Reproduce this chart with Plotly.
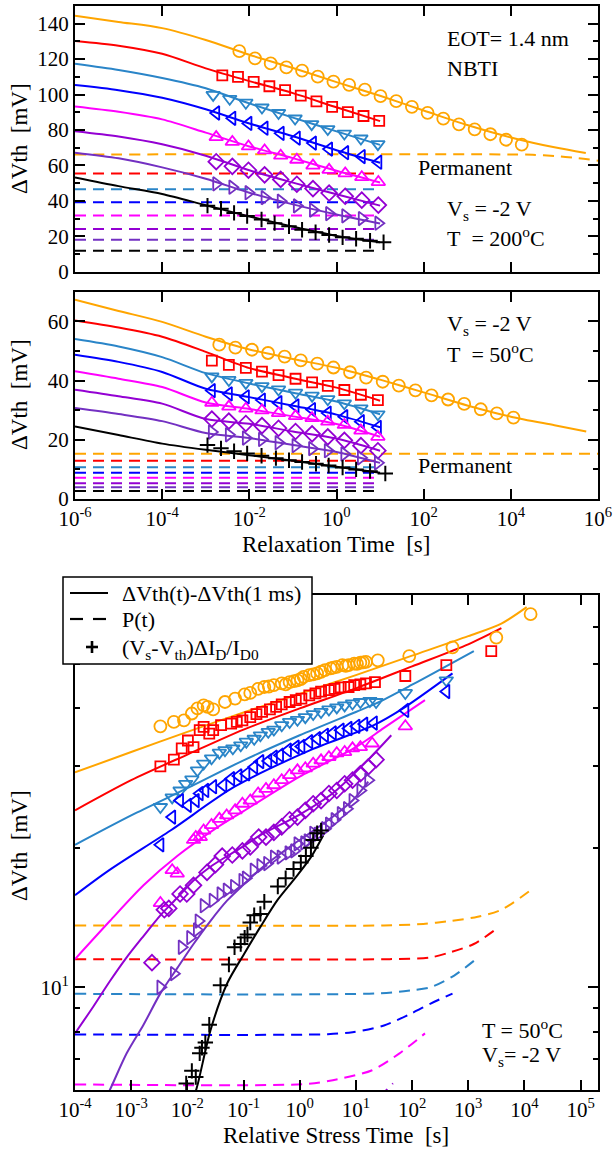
import numpy as np
import plotly.graph_objects as go

# ---------------- colours ----------------
ORANGE = "#FFA500"
RED = "#FF0000"
STEEL = "#2A85C8"
BLUE = "#0000FF"
MAGENTA = "#FF00FF"
PURPLE = "#9400D3"
VIOLET = "#7330C2"
BLACK = "#000000"

# ================= TOP PANEL (T = 200 C), log10(relaxation time [s]) / mV =================
top_line_logt = [-6, -5, -4, -3, -2, -1, 0, 1]
top_orange_line_logt = [-6, -5, -4, -3, -2, -1, 0, 1, 2, 3, 4, 5, 5.72]
top_orange_line = [144.5, 141.0, 137.5, 130.8, 122.5, 115.0, 107.0, 99.3, 91.0, 82.8, 75.8, 70.2, 67.0]
top_red_line = [130.3, 127.6, 123.0, 114.8, 107.6, 100.8, 92.8, 85.0]
top_steel_line = [117.4, 113.9, 109.4, 103.6, 95.0, 87.0, 79.2, 71.6]
top_blue_line = [105.4, 102.5, 98.2, 91.7, 83.7, 76.5, 68.6, 61.5]
top_magenta_line = [93.3, 90.3, 86.0, 78.5, 70.7, 64.1, 57.0, 50.4]
top_purple_line = [79.3, 76.3, 71.9, 65.5, 57.3, 50.3, 43.7, 37.3]
top_violet_line = [67.2, 64.0, 58.9, 52.5, 44.6, 38.0, 32.3, 27.2]
top_black_line = [53.2, 48.3, 43.9, 37.5, 31.2, 25.4, 20.2, 16.6]

top_orange_pts_logt = [-2.23, -1.87, -1.51, -1.15, -0.79, -0.43, -0.07, 0.29, 0.65, 1.01,
                       1.37, 1.73, 2.09, 2.45, 2.81, 3.17, 3.53, 3.89, 4.25]
top_orange_pts = [124.5, 120.4, 117.6, 115.3, 113.5, 110.1, 107.3, 105.5, 102.8, 99.1,
                  96.3, 93.1, 89.7, 86.4, 83.2, 80.4, 77.6, 74.5, 71.7]
top_red_pts_logt = [-2.62, -2.26, -1.90, -1.54, -1.18, -0.82, -0.46, -0.10, 0.26, 0.62, 0.98]
top_red_pts = [110.8, 110.0, 107.2, 104.7, 102.5, 99.4, 96.2, 93.1, 90.1, 87.9, 85.1]
top_steel_pts_logt = [-2.83, -2.45, -2.08, -1.71, -1.33, -0.95, -0.57, -0.20, 0.18, 0.56, 0.95]
top_steel_pts = [99.8, 97.6, 95.4, 92.7, 89.6, 86.5, 83.3, 80.5, 78.0, 75.2, 72.0]
top_pts_logt = [-2.76, -2.39, -2.02, -1.65, -1.28, -0.91, -0.54, -0.17, 0.20, 0.58, 0.96]
top_blue_pts = [89.6, 86.6, 83.7, 81.0, 78.1, 75.4, 72.6, 69.2, 67.2, 65.0, 61.8]
top_magenta_pts = [76.0, 73.3, 70.7, 68.5, 65.5, 63.2, 59.9, 57.5, 55.5, 53.4, 50.6]
top_purple_pts = [62.1, 59.5, 57.3, 54.7, 52.1, 49.4, 46.9, 44.4, 42.6, 40.4, 37.6]
top_violet_pts = [49.6, 47.7, 44.6, 41.8, 39.8, 37.2, 34.8, 32.8, 31.5, 30.0, 27.4]
top_black_pts_logt = [-2.96, -2.65, -2.35, -2.05, -1.72, -1.42, -1.09, -0.79, -0.48, -0.17,
                      0.14, 0.45, 0.77, 1.08]
top_black_pts = [37.3, 35.6, 33.2, 31.4, 29.5, 27.4, 25.6, 23.7, 22.3, 20.7, 19.4, 18.6, 17.5, 16.6]

top_dash_logt = [-6, 0.98]
top_orange_dash_logt = [-6, 4.0, 4.5, 5.0, 5.5, 6.0]
top_orange_dash = [66.2, 66.2, 66.0, 65.3, 64.2, 62.7]
top_perm_levels = {"red": 55.5, "steel": 46.5, "blue": 39.2, "magenta": 31.7,
                   "purple": 24.1, "violet": 18.1, "black": 11.8}

# ================= MIDDLE PANEL (T = 50 C) =================
mid_line_logt = [-6, -5, -4, -3, -2, -1, 0, 1]
mid_orange_line_logt = [-6, -5, -4, -3, -2, -1, 0, 1, 2, 3, 4, 5, 5.73]
mid_orange_line = [67.3, 63.5, 59.8, 54.8, 50.5, 47.3, 44.3, 40.3, 36.0, 31.6, 27.8, 24.9, 22.8]
mid_red_line = [60.3, 57.9, 54.8, 49.7, 44.2, 40.8, 37.6, 33.2]
mid_steel_line = [54.0, 51.5, 47.9, 42.5, 39.0, 35.9, 32.9, 28.6]
mid_blue_line = [48.7, 46.3, 42.9, 37.2, 34.4, 31.5, 28.5, 24.2]
mid_magenta_line = [43.1, 40.6, 37.8, 32.6, 30.4, 27.9, 25.3, 21.0]
mid_purple_line = [36.9, 34.7, 32.2, 27.0, 25.4, 22.8, 20.4, 16.3]
mid_violet_line = [30.7, 28.7, 26.3, 22.3, 20.6, 18.2, 15.9, 12.2]
mid_black_line = [24.5, 21.6, 18.7, 16.6, 14.8, 12.9, 10.9, 8.9]

mid_orange_pts_logt = [-2.69, -2.32, -1.94, -1.57, -1.19, -0.82, -0.44, -0.07, 0.31, 0.68,
                       1.06, 1.43, 1.81, 2.18, 2.56, 2.93, 3.31, 3.68, 4.06]
mid_orange_pts = [52.1, 51.1, 50.4, 49.3, 48.1, 46.8, 45.7, 44.4, 42.8, 41.0,
                  39.6, 38.3, 36.7, 35.0, 33.6, 32.1, 30.3, 28.9, 27.5]
mid_pts_logt = [-2.86, -2.47, -2.08, -1.71, -1.33, -0.94, -0.56, -0.20, 0.18, 0.56, 0.95]
mid_red_pts = [46.7, 45.3, 44.3, 43.0, 41.8, 40.6, 39.4, 38.2, 36.8, 35.2, 33.4]
mid_steel_pts = [41.4, 40.2, 39.2, 38.1, 37.0, 35.9, 34.9, 33.7, 32.3, 30.6, 28.6]
mid_blue_pts = [36.6, 35.5, 34.5, 33.4, 32.5, 31.4, 30.2, 29.0, 27.8, 26.1, 24.2]
mid_magenta_pts = [32.5, 31.2, 30.5, 29.9, 29.0, 28.0, 27.3, 26.1, 25.0, 23.1, 21.0]
mid_purple_pts = [27.0, 26.3, 25.5, 24.8, 23.9, 22.8, 22.0, 21.0, 19.8, 18.0, 16.3]
mid_violet_pts = [22.6, 21.7, 20.6, 20.1, 19.0, 18.0, 17.0, 16.3, 15.2, 13.9, 12.2]
mid_black_pts_logt = [-2.96, -2.65, -2.35, -2.05, -1.72, -1.39, -1.09, -0.79, -0.47, -0.18,
                      0.14, 0.45, 0.77, 1.12]
mid_black_pts = [18.2, 17.1, 16.1, 15.4, 14.6, 13.8, 13.1, 12.5, 11.9, 11.3, 10.6, 10.0, 9.4, 8.6]

mid_dash_logt = [-6, 0.97]
mid_orange_dash_logt = [-6, 6]
mid_orange_dash = [15.3, 15.3]
mid_perm_levels = {"red": 12.9, "steel": 10.7, "blue": 8.9, "magenta": 7.2,
                   "purple": 5.3, "violet": 4.0, "black": 2.7}

# ================= BOTTOM PANEL: log10(relative stress time [s]) / mV =================
bot_orange_line_logt = [-4, -3, -2, -1, 0, 1, 2, 3, 3.59, 4.04]
bot_orange_line = [29.1, 32.2, 35.6, 39.2, 43.0, 47.2, 52.0, 57.3, 61.0, 66.2]
bot_orange_pts_logt = [-2.48, -2.24, -2.06, -1.92, -1.82, -1.71, -1.64, -1.54, -1.33, -1.15,
                       -0.98, -0.88, -0.74, -0.63, -0.55, -0.46, -0.32, -0.25, -0.18, -0.10,
                       -0.04, 0.02, 0.07, 0.17, 0.24, 0.31, 0.38, 0.45, 0.55, 0.60, 0.66,
                       0.76, 0.82, 0.87, 0.97, 1.02, 1.08, 1.13, 1.18, 1.39, 1.95, 2.72,
                       3.50, 4.11]
bot_orange_pts = [36.6, 37.4, 37.7, 39.0, 40.0, 40.6, 40.3, 39.8, 41.3, 42.0,
                  42.9, 43.2, 44.1, 44.5, 44.6, 44.9, 45.3, 45.1, 45.6, 45.8,
                  46.0, 46.3, 46.8, 47.2, 47.4, 47.6, 48.0, 48.4, 48.8, 49.0, 49.2,
                  49.6, 49.4, 49.6, 50.0, 49.9, 50.2, 50.3, 50.4, 50.8, 51.9, 54.2,
                  56.9, 63.9]
bot_red_line_logt = [-4, -3, -2, -1, 0, 1, 2, 3, 3.59]
bot_red_line = [24.1, 28.0, 31.8, 36.0, 40.0, 44.2, 49.3, 55.0, 59.6]
bot_red_pts_logt = [-2.48, -2.24, -2.10, -1.99, -1.89, -1.78, -1.71, -1.61, -1.54, -1.40,
                    -1.22, -1.12, -1.02, -0.88, -0.77, -0.67, -0.53, -0.42, -0.32, -0.18,
                    -0.07, 0.03, 0.17, 0.28, 0.38, 0.52, 0.62, 0.73, 0.87, 0.97, 1.08,
                    1.18, 1.34, 1.88, 2.61, 3.41]
bot_red_pts = [30.0, 31.0, 32.8, 34.1, 33.0, 35.9, 36.5, 35.3, 35.9, 36.8,
               37.1, 37.4, 37.7, 38.3, 38.9, 39.3, 39.8, 40.3, 40.8, 41.3,
               41.7, 42.0, 42.7, 43.1, 43.5, 43.8, 44.1, 44.4, 44.5, 44.9, 45.1,
               45.3, 45.6, 47.0, 49.6, 53.2]
bot_steel_line_logt = [-4, -3, -2, -1, 0, 1, 1.36, 2, 3.10]
bot_steel_line = [20.3, 23.5, 26.9, 30.9, 35.0, 39.3, 41.0, 45.0, 53.2]
bot_steel_pts_logt = [-2.48, -2.27, -2.13, -2.03, -1.92, -1.82, -1.71, -1.57, -1.43, -1.33,
                      -1.19, -1.05, -0.95, -0.81, -0.70, -0.56, -0.46, -0.32, -0.18, -0.04,
                      0.10, 0.24, 0.38, 0.52, 0.66, 0.80, 0.94, 1.08, 1.25, 1.36, 1.88, 2.61]
bot_steel_pts = [24.5, 25.7, 26.6, 27.5, 28.1, 29.4, 30.4, 31.2, 32.1, 32.5,
                 32.8, 33.3, 33.9, 34.4, 35.0, 35.6, 36.0, 36.8, 37.4, 37.8,
                 38.3, 38.9, 39.3, 39.8, 40.2, 40.6, 41.0, 41.3, 41.5, 41.3, 43.2, 46.0]
bot_blue_line_logt = [-4, -3.39, -2.3, -1.16, 0.24, 1.32, 1.84, 2.72]
bot_blue_line = [15.8, 17.9, 21.8, 27.1, 32.7, 36.8, 40.0, 47.6]
bot_blue_pts_logt = [-2.48, -2.27, -2.13, -1.99, -1.85, -1.78, -1.68, -1.54, -1.36, -1.22,
                     -1.09, -0.95, -0.81, -0.70, -0.56, -0.46, -0.35, -0.21, -0.07, 0.03,
                     0.17, 0.31, 0.45, 0.59, 0.73, 0.87, 1.01, 1.15, 1.32, 1.88, 2.61]
bot_blue_pts = [20.3, 23.3, 25.3, 24.7, 25.3, 26.2, 26.6, 27.1, 27.3, 28.2,
                28.6, 28.9, 29.9, 30.7, 30.8, 31.4, 31.7, 32.5, 33.0, 33.1,
                33.9, 34.4, 35.0, 35.4, 35.9, 36.2, 36.6, 37.0, 37.2, 39.6, 43.5]
bot_magenta_line_logt = [-4, -3.38, -2.78, -2.18, -1.5, -1, 0, 1, 1.5, 2.23]
bot_magenta_line = [11.5, 13.9, 16.6, 19.2, 22.0, 24.0, 28.5, 33.0, 36.3, 41.7]
bot_magenta_pts_logt = [-2.48, -2.27, -2.18, -1.89, -1.85, -1.77, -1.71, -1.57, -1.43, -1.30,
                        -1.15, -1.02, -0.88, -0.74, -0.60, -0.46, -0.32, -0.18, -0.04, 0.10,
                        0.24, 0.38, 0.52, 0.66, 0.80, 0.94, 1.08, 1.29, 1.88]
bot_magenta_pts = [15.2, 17.9, 17.6, 20.8, 21.1, 21.1, 21.8, 22.4, 23.1, 23.5,
                   24.1, 24.9, 25.3, 26.2, 26.8, 27.3, 28.0, 28.7, 29.4, 29.7,
                   30.4, 30.9, 31.4, 32.0, 32.2, 32.8, 33.0, 33.6, 36.6]
bot_purple_line_logt = [-4, -3.67, -3.38, -3.08, -2.78, -2.48, -2.18, -1.89, -1.59, -1.29,
                        -0.99, -0.70, 0, 0.6, 1.22, 1.63]
bot_purple_line = [7.95, 9.1, 10.3, 11.6, 12.9, 14.3, 15.6, 17.0, 18.2, 19.2,
                   20.2, 21.3, 23.6, 26.3, 31.0, 35.0]
bot_purple_pts_logt = [-2.63, -2.41, -2.33, -2.13, -2.01, -1.89, -1.65, -1.50, -1.38, -1.20,
                       -1.02, -0.88, -0.73, -0.60, -0.46, -0.32, -0.18, -0.04, 0.10, 0.24,
                       0.38, 0.52, 0.66, 0.80, 0.94, 1.08, 1.22, 1.36]
bot_purple_pts = [11.3, 14.7, 14.8, 15.9, 15.9, 16.6, 17.7, 18.4, 19.2, 19.3,
                  19.7, 20.1, 21.1, 21.1, 21.6, 22.2, 23.0, 23.3, 24.1, 24.9,
                  25.3, 26.2, 26.6, 27.5, 28.0, 28.9, 29.9, 31.0]
bot_violet_line_logt = [-3.6, -3.38, -3.08, -2.78, -2.48, -2.18, -1.89, -1.59, -1.29, -0.99,
                        -0.70, -0.40, -0.10, 0.20, 0.6, 0.94, 1.22]
bot_violet_line = [5.3, 6.0, 7.2, 8.3, 9.7, 11.0, 12.4, 13.9, 15.4, 16.7,
                   18.0, 19.2, 20.4, 21.6, 23.4, 25.3, 27.8]
bot_violet_pts_logt = [-2.48, -2.24, -2.10, -1.95, -1.83, -1.80, -1.71, -1.55, -1.41, -1.30,
                       -1.17, -1.02, -0.96, -0.82, -0.70, -0.58, -0.46, -0.34, -0.20, -0.10,
                       -0.04, 0.08, 0.14, 0.24, 0.32, 0.45, 0.52, 0.62, 0.73, 0.84, 0.94,
                       1.08, 1.22]
bot_violet_pts = [10.0, 10.7, 12.2, 12.8, 13.3, 13.9, 15.0, 15.4, 15.9, 16.2,
                  16.5, 17.0, 17.2, 17.9, 18.3, 18.5, 19.1, 19.1, 19.5, 19.7,
                  20.4, 20.5, 20.7, 21.5, 21.4, 22.0, 22.5, 23.0, 23.7, 24.3, 25.3,
                  26.6, 28.0]
bot_black_line_logt = [-1.95, -1.83, -1.59, -1.29, -0.99, -0.70, -0.40, -0.10, 0.20, 0.42]
bot_black_line = [5.5, 6.08, 8.06, 10.2, 11.8, 13.5, 15.4, 17.1, 19.1, 21.3]
bot_black_pts_logt = [-2.02, -1.92, -1.85, -1.78, -1.74, -1.68, -1.61, -1.41, -1.26, -1.16,
                      -1.05, -0.98, -0.93, -0.88, -0.81, -0.70, -0.63, -0.39, -0.25, -0.11,
                      0.02, 0.11, 0.20, 0.24, 0.31, 0.38]
bot_black_pts = [6.2, 6.6, 6.4, 7.2, 7.4, 7.6, 8.3, 10.1, 11.2, 12.2,
                 12.4, 12.8, 13.0, 13.8, 14.3, 14.4, 15.3, 16.5, 17.2, 18.0,
                 18.6, 19.2, 20.0, 20.8, 21.5, 21.8]

bot_orange_dash_logt = [-4, 1.5, 2.2, 2.68, 3.17, 3.59, 4.08]
bot_orange_dash = [13.6, 13.6, 13.7, 13.9, 14.2, 14.7, 16.1]
bot_red_dash_logt = [-4, 1.6, 2.33, 2.68, 3.10, 3.55]
bot_red_dash = [11.5, 11.5, 11.6, 11.9, 12.4, 13.5]
bot_steel_dash_logt = [-4, 1.4, 1.98, 2.33, 2.75, 3.10]
bot_steel_dash = [9.68, 9.7, 9.85, 10.0, 10.6, 11.4]
bot_blue_dash_logt = [-4, 0.5, 0.94, 1.50, 1.98, 2.33, 2.72]
bot_blue_dash = [7.91, 7.92, 8.0, 8.27, 8.77, 9.22, 9.69]
bot_magenta_dash_logt = [-4, 0.1, 0.59, 1.29, 1.77, 2.23]
bot_magenta_dash = [6.17, 6.18, 6.30, 6.62, 7.19, 7.95]
bot_purple_dash_logt = [-4, 0.5, 1.0, 1.3, 1.53, 1.66]
bot_purple_dash = [4.6, 4.65, 4.95, 5.4, 5.97, 6.2]

# tick labels / legend texts
top_xticks_log = [-6, -4, -2, 0, 2, 4, 6]
bot_xticks_log = [-4, -3, -2, -1, 0, 1, 2, 3, 4, 5]
legend_texts = ["\u0394Vth(t)-\u0394Vth(1 ms)", "P(t)",
                "(V<sub>s</sub>-V<sub>th</sub>)\u0394I<sub>D</sub>/I<sub>D0</sub>"]

# ---------------- helpers ----------------
FONT = "Liberation Serif, DejaVu Serif, serif"
W, H = 615, 1150


def tt(logs):
    return [10.0 ** v for v in logs]


def px(x):
    return x / W


def py(y):
    return 1 - y / H


traces = []


def add_line(logt, vals, color, ax, dash=None, width=2.0):
    xa, ya = ax
    traces.append(go.Scatter(
        x=tt(logt), y=vals, mode="lines", xaxis=xa, yaxis=ya,
        line=dict(color=color, width=width, dash=dash, shape="spline", smoothing=0.8),
        showlegend=False, hoverinfo="skip"))


def add_pts(logt, vals, color, symbol, ax, size=12, lw=1.8):
    xa, ya = ax
    traces.append(go.Scatter(
        x=tt(logt), y=vals, mode="markers", xaxis=xa, yaxis=ya,
        marker=dict(symbol=symbol, size=size, color=color,
                    line=dict(color=color, width=lw)),
        showlegend=False, hoverinfo="skip"))


DASH = "11px,7px"
SYM = {"orange": "circle-open", "red": "square-open", "steel": "triangle-down-open",
       "blue": "triangle-left-open", "magenta": "triangle-up-open", "purple": "diamond-open",
       "violet": "triangle-right-open", "black": "cross-thin-open"}
SIZE = {"orange": 12, "red": 10, "steel": 12, "blue": 12, "magenta": 12, "purple": 12,
        "violet": 12, "black": 11}
COL = {"orange": ORANGE, "red": RED, "steel": STEEL, "blue": BLUE, "magenta": MAGENTA,
       "purple": PURPLE, "violet": VIOLET, "black": BLACK}

# ---------- top panel ----------
A1 = ("x", "y")
add_line(top_orange_dash_logt, top_orange_dash, ORANGE, A1, dash=DASH)
for k, lev in top_perm_levels.items():
    add_line(top_dash_logt, [lev, lev], COL[k], A1, dash=DASH)
add_line(top_orange_line_logt, top_orange_line, ORANGE, A1)
for k, arr in [("red", top_red_line), ("steel", top_steel_line), ("blue", top_blue_line),
               ("magenta", top_magenta_line), ("purple", top_purple_line),
               ("violet", top_violet_line), ("black", top_black_line)]:
    add_line(top_line_logt, arr, COL[k], A1)
add_pts(top_orange_pts_logt, top_orange_pts, ORANGE, SYM["orange"], A1, SIZE["orange"])
add_pts(top_red_pts_logt, top_red_pts, RED, SYM["red"], A1, SIZE["red"])
add_pts(top_steel_pts_logt, top_steel_pts, STEEL, SYM["steel"], A1, SIZE["steel"])
for k, arr in [("blue", top_blue_pts), ("magenta", top_magenta_pts),
               ("purple", top_purple_pts), ("violet", top_violet_pts)]:
    add_pts(top_pts_logt, arr, COL[k], SYM[k], A1, SIZE[k])
add_pts(top_black_pts_logt, top_black_pts, BLACK, SYM["black"], A1, SIZE["black"], lw=2)

# ---------- middle panel ----------
A2 = ("x2", "y2")
add_line(mid_orange_dash_logt, mid_orange_dash, ORANGE, A2, dash=DASH)
for k, lev in mid_perm_levels.items():
    add_line(mid_dash_logt, [lev, lev], COL[k], A2, dash=DASH)
add_line(mid_orange_line_logt, mid_orange_line, ORANGE, A2)
for k, arr in [("red", mid_red_line), ("steel", mid_steel_line), ("blue", mid_blue_line),
               ("magenta", mid_magenta_line), ("purple", mid_purple_line),
               ("violet", mid_violet_line), ("black", mid_black_line)]:
    add_line(mid_line_logt, arr, COL[k], A2)
add_pts(mid_orange_pts_logt, mid_orange_pts, ORANGE, SYM["orange"], A2, SIZE["orange"])
for k, arr in [("red", mid_red_pts), ("steel", mid_steel_pts), ("blue", mid_blue_pts),
               ("magenta", mid_magenta_pts), ("purple", mid_purple_pts),
               ("violet", mid_violet_pts)]:
    add_pts(mid_pts_logt, arr, COL[k], SYM[k], A2, SIZE[k])
add_pts(mid_black_pts_logt, mid_black_pts, BLACK, SYM["black"], A2, SIZE["black"], lw=2)

# ---------- bottom panel ----------
A3 = ("x3", "y3")
for lt, v, k in [(bot_orange_dash_logt, bot_orange_dash, "orange"),
                 (bot_red_dash_logt, bot_red_dash, "red"),
                 (bot_steel_dash_logt, bot_steel_dash, "steel"),
                 (bot_blue_dash_logt, bot_blue_dash, "blue"),
                 (bot_magenta_dash_logt, bot_magenta_dash, "magenta"),
                 (bot_purple_dash_logt, bot_purple_dash, "purple")]:
    add_line(lt, v, COL[k], A3, dash=DASH)
for lt, v, k in [(bot_orange_line_logt, bot_orange_line, "orange"),
                 (bot_red_line_logt, bot_red_line, "red"),
                 (bot_steel_line_logt, bot_steel_line, "steel"),
                 (bot_blue_line_logt, bot_blue_line, "blue"),
                 (bot_magenta_line_logt, bot_magenta_line, "magenta"),
                 (bot_purple_line_logt, bot_purple_line, "purple"),
                 (bot_violet_line_logt, bot_violet_line, "violet"),
                 (bot_black_line_logt, bot_black_line, "black")]:
    add_line(lt, v, COL[k], A3)
for lt, v, k in [(bot_orange_pts_logt, bot_orange_pts, "orange"),
                 (bot_red_pts_logt, bot_red_pts, "red"),
                 (bot_steel_pts_logt, bot_steel_pts, "steel"),
                 (bot_blue_pts_logt, bot_blue_pts, "blue"),
                 (bot_magenta_pts_logt, bot_magenta_pts, "magenta"),
                 (bot_purple_pts_logt, bot_purple_pts, "purple"),
                 (bot_violet_pts_logt, bot_violet_pts, "violet"),
                 (bot_black_pts_logt, bot_black_pts, "black")]:
    add_pts(lt, v, COL[k], SYM[k], A3, SIZE[k], lw=2 if k == "black" else 1.8)

fig = go.Figure(data=traces)

# ---------------- layout ----------------
XDOM = [75 / W, 598 / W]


def ydom(top_px, bot_px):
    return [1 - bot_px / H, 1 - top_px / H]


tickfont = dict(family=FONT, size=21, color="black")
base = dict(showline=True, linecolor="black", linewidth=2, mirror="ticks", ticks="inside",
            ticklen=10, tickwidth=2, tickcolor="black", showgrid=False, zeroline=False,
            tickfont=tickfont, automargin=False)
minor_lin = dict(dtick=10, ticks="inside", ticklen=5, tickwidth=2, tickcolor="black",
                 showgrid=False)


def sup_labels(logs):
    return ["10<sup>%d</sup>" % v for v in logs]


fig.update_layout(
    template="none",
    width=W, height=H, margin=dict(l=0, r=0, t=0, b=0, autoexpand=False),
    paper_bgcolor="white", plot_bgcolor="white",
    font=dict(family=FONT, size=21, color="black"),
    showlegend=False,
    xaxis=dict(base, type="log", range=[-6, 6], domain=XDOM, anchor="y",
               tickvals=tt(top_xticks_log), showticklabels=False),
    yaxis=dict(base, range=[0, 150], domain=ydom(6, 271.7), anchor="x",
               tick0=0, dtick=20, minor=minor_lin),
    xaxis2=dict(base, type="log", range=[-6, 6], domain=XDOM, anchor="y2",
                tickvals=tt(top_xticks_log), ticktext=sup_labels(top_xticks_log)),
    yaxis2=dict(base, range=[0, 70], domain=ydom(291.7, 499), anchor="x2",
                tick0=0, dtick=20, minor=minor_lin),
    xaxis3=dict(base, type="log", range=[-4, 5.31], domain=XDOM, anchor="y3",
                tickvals=tt(bot_xticks_log), ticktext=sup_labels(bot_xticks_log)),
    yaxis3=dict(base, type="log", range=[np.log10(6.0), np.log10(70.3)],
                domain=ydom(595, 1090), anchor="x3",
                tickvals=[10], ticktext=["10<sup>1</sup>"],
                minor=dict(tickmode="array", tickvals=[6, 7, 8, 9, 20, 30, 40, 50, 60, 70],
                           ticks="inside", ticklen=5, tickwidth=2, tickcolor="black",
                           showgrid=False)),
)

# ---- manual legend box (bottom panel) ----
shapes = [
    dict(type="rect", xref="paper", yref="paper", x0=px(63), x1=px(312), y0=py(664), y1=py(577),
         line=dict(color="black", width=1.5), fillcolor="white", layer="above"),
    dict(type="line", xref="paper", yref="paper", x0=px(70), x1=px(108), y0=py(593), y1=py(593),
         line=dict(color="black", width=2.2), layer="above"),
    dict(type="line", xref="paper", yref="paper", x0=px(70), x1=px(83), y0=py(619), y1=py(619),
         line=dict(color="black", width=2.2), layer="above"),
    dict(type="line", xref="paper", yref="paper", x0=px(93), x1=px(106), y0=py(619), y1=py(619),
         line=dict(color="black", width=2.2), layer="above"),
    dict(type="line", xref="paper", yref="paper", x0=px(86), x1=px(98), y0=py(647), y1=py(647),
         line=dict(color="black", width=2.6), layer="above"),
    dict(type="line", xref="paper", yref="paper", x0=px(92), x1=px(92), y0=py(641), y1=py(653),
         line=dict(color="black", width=2.6), layer="above"),
]
fig.update_layout(shapes=shapes)


def ann(text, x_px, y_px, angle=0, xanchor="left", size=22):
    return dict(text=text, x=px(x_px), y=py(y_px), xref="paper", yref="paper",
                showarrow=False, xanchor=xanchor, yanchor="middle", textangle=angle,
                font=dict(family=FONT, size=size, color="black"))


NB = "\u00a0"
annotations = [
    ann("EOT= 1.4 nm", 445, 39),
    ann("NBTI", 445, 68),
    ann("Permanent", 416, 167),
    ann("V<sub>s</sub> = -2 V", 445, 210),
    ann("T" + NB * 2 + "= 200<sup>o</sup>C", 445, 237),
    ann("V<sub>s</sub> = -2 V", 445, 325),
    ann("T" + NB * 2 + "= 50<sup>o</sup>C", 445, 353),
    ann("Permanent", 416, 465),
    ann("T = 50<sup>o</sup>C", 480, 1029),
    ann("V<sub>s</sub>= -2 V", 480, 1056),
    ann("\u0394Vth" + NB * 2 + "[mV]", 19, 139, angle=-90, xanchor="center", size=23),
    ann("\u0394Vth" + NB * 2 + "[mV]", 19, 395, angle=-90, xanchor="center", size=23),
    ann("\u0394Vth" + NB * 2 + "[mV]", 19, 846, angle=-90, xanchor="center", size=23),
    ann("Relaxation Time" + NB * 2 + "[s]", 336, 545, xanchor="center", size=23),
    ann("Relative Stress Time" + NB * 2 + "[s]", 336, 1135, xanchor="center", size=23),
    ann(legend_texts[0], 120, 593, size=22),
    ann(legend_texts[1], 120, 619, size=22),
    ann(legend_texts[2], 120, 649, size=22),
]
fig.update_layout(annotations=annotations)

fig.write_html("out.html",
               config={"displayModeBar": False, "staticPlot": True},
               post_script="document.body.style.margin='0px';document.body.style.padding='0px';")
